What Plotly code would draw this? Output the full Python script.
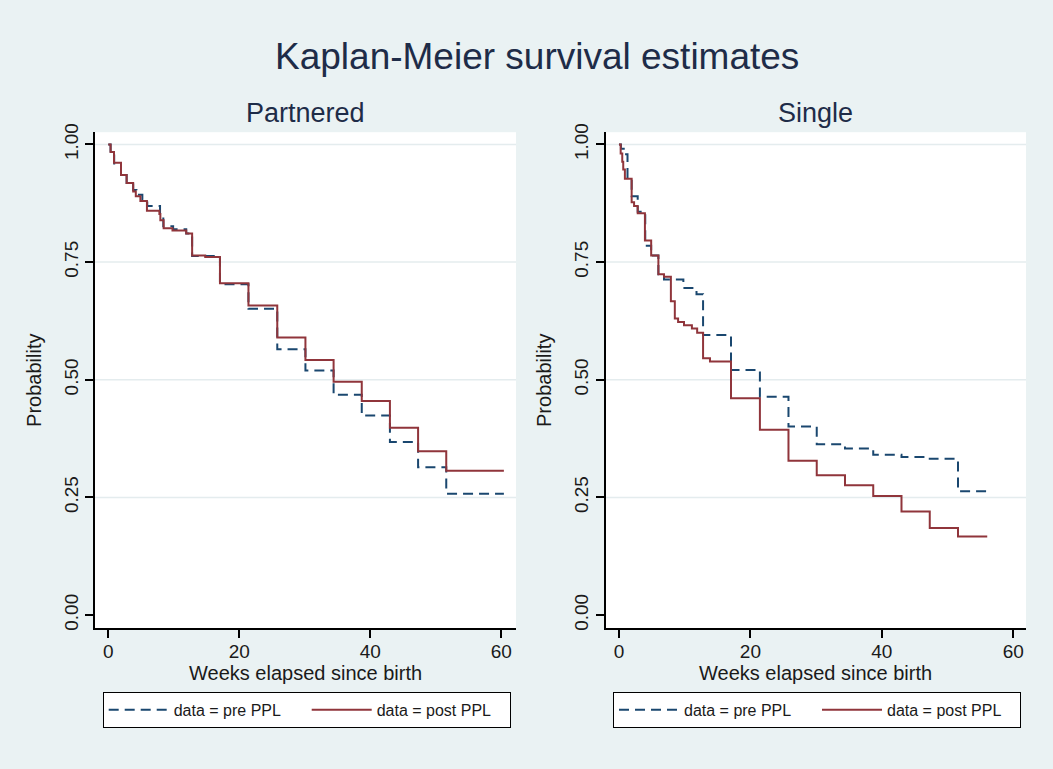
import plotly.graph_objects as go

W, H = 1053, 769

# ---------------- data ----------------
# Partnered panel
part_pre_t = [0, 0.35, 0.9, 1.94, 2.8, 3.8, 4.3, 5.2, 5.95, 7.9, 8.4, 9.9, 11.9, 12.8,
              17.05, 21.4, 25.8, 30.1, 34.4, 38.7, 43.0, 47.3, 51.6, 60.4]
part_pre_s = [1.0, 0.985, 0.957, 0.935, 0.918, 0.903, 0.893, 0.883, 0.869, 0.850, 0.826, 0.820,
              0.811, 0.763, 0.703, 0.651, 0.565, 0.520, 0.468, 0.424, 0.368, 0.314, 0.258, 0.258]
part_post_t = [0, 0.35, 0.87, 1.94, 2.8, 3.8, 4.2, 4.9, 5.9, 7.8, 7.95, 8.45, 9.8, 11.9, 12.8,
               14.8, 17.05, 21.4, 25.8, 30.1, 34.4, 38.7, 43.0, 47.3, 51.6, 60.4]
part_post_s = [1.0, 0.984, 0.961, 0.935, 0.918, 0.900, 0.890, 0.880, 0.859, 0.852, 0.839, 0.822,
               0.817, 0.811, 0.764, 0.761, 0.705, 0.658, 0.590, 0.542, 0.496, 0.455, 0.398,
               0.348, 0.307, 0.307]

# Single panel
sing_pre_t = [0, 0.3, 0.9, 1.3, 1.93, 2.85, 4.0, 4.9, 6.0, 6.85, 9.8, 11.8, 12.8, 17.05,
              21.45, 25.8, 30.1, 34.4, 38.7, 43.0, 47.3, 51.6, 56.05]
sing_pre_s = [1.0, 0.991, 0.979, 0.927, 0.890, 0.857, 0.785, 0.764, 0.724, 0.713, 0.695, 0.682,
              0.595, 0.521, 0.464, 0.401, 0.363, 0.354, 0.341, 0.336, 0.332, 0.263, 0.263]
sing_post_t = [0, 0.26, 0.5, 0.65, 0.9, 1.93, 2.3, 2.85, 3.95, 4.9, 6.0, 6.85, 7.9, 8.5, 9.0,
               9.9, 11.1, 11.9, 12.8, 13.85, 17.05, 21.45, 25.8, 30.1, 34.4, 38.7, 43.0, 47.3,
               51.6, 56.05]
sing_post_s = [1.0, 0.981, 0.963, 0.947, 0.927, 0.877, 0.869, 0.854, 0.796, 0.764, 0.724, 0.719,
               0.667, 0.630, 0.623, 0.616, 0.609, 0.600, 0.546, 0.539, 0.461, 0.394, 0.328,
               0.297, 0.276, 0.253, 0.220, 0.185, 0.167, 0.167]

panel_titles = ["Partnered", "Single"]
series_names = ["data = pre PPL", "data = post PPL"]
x_title = "Weeks elapsed since birth"
y_title = "Probability"
y_ticks = [0, 0.25, 0.5, 0.75, 1.0]
y_ticktext = ["0.00", "0.25", "0.50", "0.75", "1.00"]
x_ticks = [0, 20, 40, 60]
grid_vals = [0.25, 0.5, 0.75, 1.0]

# ---------------- style ----------------
NAVY = "#1a476f"
MAROON = "#90353b"
BG = "#eaf2f3"
GRID = "#e4ecee"
FONT = "Liberation Sans, Arial, sans-serif"
TXT = "#1a1a1a"
TITLE_C = "#1e2c48"

fig = go.Figure()

panels = [
    ("x", "y", "legend", part_pre_t, part_pre_s, part_post_t, part_post_s),
    ("x2", "y2", "legend2", sing_pre_t, sing_pre_s, sing_post_t, sing_post_s),
]
for xa, ya, lg, pt, ps, qt, qs in panels:
    fig.add_trace(go.Scatter(x=pt, y=ps, xaxis=xa, yaxis=ya, mode="lines", line_shape="hv",
                             line=dict(color=NAVY, width=2, dash="10px,6px"),
                             name=series_names[0], legend=lg))
    fig.add_trace(go.Scatter(x=qt, y=qs, xaxis=xa, yaxis=ya, mode="lines", line_shape="hv",
                             line=dict(color=MAROON, width=2),
                             name=series_names[1], legend=lg))

dom_y = [1 - 628.3 / H, 1 - 125 / H]
dom_x1 = [95 / W, 516 / W]
dom_x2 = [605.7 / W, 1026 / W]

def xaxis(dom, rng, anchor):
    return dict(domain=dom, range=rng, anchor=anchor, tickvals=x_ticks,
                showline=True, linecolor="black", linewidth=1.5, ticks="outside",
                ticklen=8, tickwidth=1.5, tickcolor="black", showgrid=False, zeroline=False,
                ticklabelstandoff=-3,
                tickfont=dict(family=FONT, size=19, color=TXT))

def yaxis(anchor):
    return dict(domain=dom_y, range=[-0.028, 1.026], anchor=anchor, tickvals=y_ticks,
                ticktext=y_ticktext, tickangle=-90,
                showline=True, linecolor="black", linewidth=1.5, ticks="outside",
                ticklen=8, tickwidth=1.5, tickcolor="black", showgrid=False, zeroline=False,
                tickfont=dict(family=FONT, size=19, color=TXT),
                title=dict(text=y_title, standoff=14,
                           font=dict(family=FONT, size=20, color=TXT)))

leg_common = dict(orientation="h", yanchor="top", xanchor="left", bgcolor="white",
                  bordercolor="black", borderwidth=1, font=dict(family=FONT, size=16, color=TXT),
                  itemwidth=60, entrywidth=128, entrywidthmode="pixels",
                  itemclick=False, itemdoubleclick=False)

fig.update_layout(
    width=W, height=H, margin=dict(l=0, r=0, t=0, b=0),
    paper_bgcolor=BG, plot_bgcolor="white",
    font=dict(family=FONT, color=TXT),
    xaxis=xaxis(dom_x1, [-2.03, 62.25], "y"),
    yaxis=yaxis("x"),
    xaxis2=xaxis(dom_x2, [-2.02, 61.95], "y2"),
    yaxis2=yaxis("x2"),
    legend=dict(leg_common, x=102.7 / W, y=1 - 692.7 / H),
    legend2=dict(leg_common, x=613 / W, y=1 - 692.7 / H),
    showlegend=True,
)

for xr, yr in [("x", "y"), ("x2", "y2")]:
    for g in grid_vals:
        fig.add_shape(type="line", xref=f"{xr} domain", yref=yr, x0=0, x1=1, y0=g, y1=g,
                      line=dict(color=GRID, width=1.5), layer="below")

fig.add_annotation(text="Kaplan-Meier survival estimates", xref="paper", yref="paper",
                   x=536.5 / W, y=1 - 48 / H, xanchor="center", yanchor="middle", showarrow=False,
                   font=dict(family=FONT, size=37, color=TITLE_C))
for dom, t in zip([dom_x1, dom_x2], panel_titles):
    fig.add_annotation(text=t, xref="paper", yref="paper", x=(dom[0] + dom[1]) / 2,
                       y=1 - 106 / H, xanchor="center", yanchor="middle", showarrow=False,
                       font=dict(family=FONT, size=27, color=TITLE_C))
    fig.add_annotation(text=x_title, xref="paper", yref="paper", x=(dom[0] + dom[1]) / 2,
                       y=1 - 673.5 / H, xanchor="center", yanchor="middle", showarrow=False,
                       font=dict(family=FONT, size=20, color=TXT))

fig.write_html("out.html")
